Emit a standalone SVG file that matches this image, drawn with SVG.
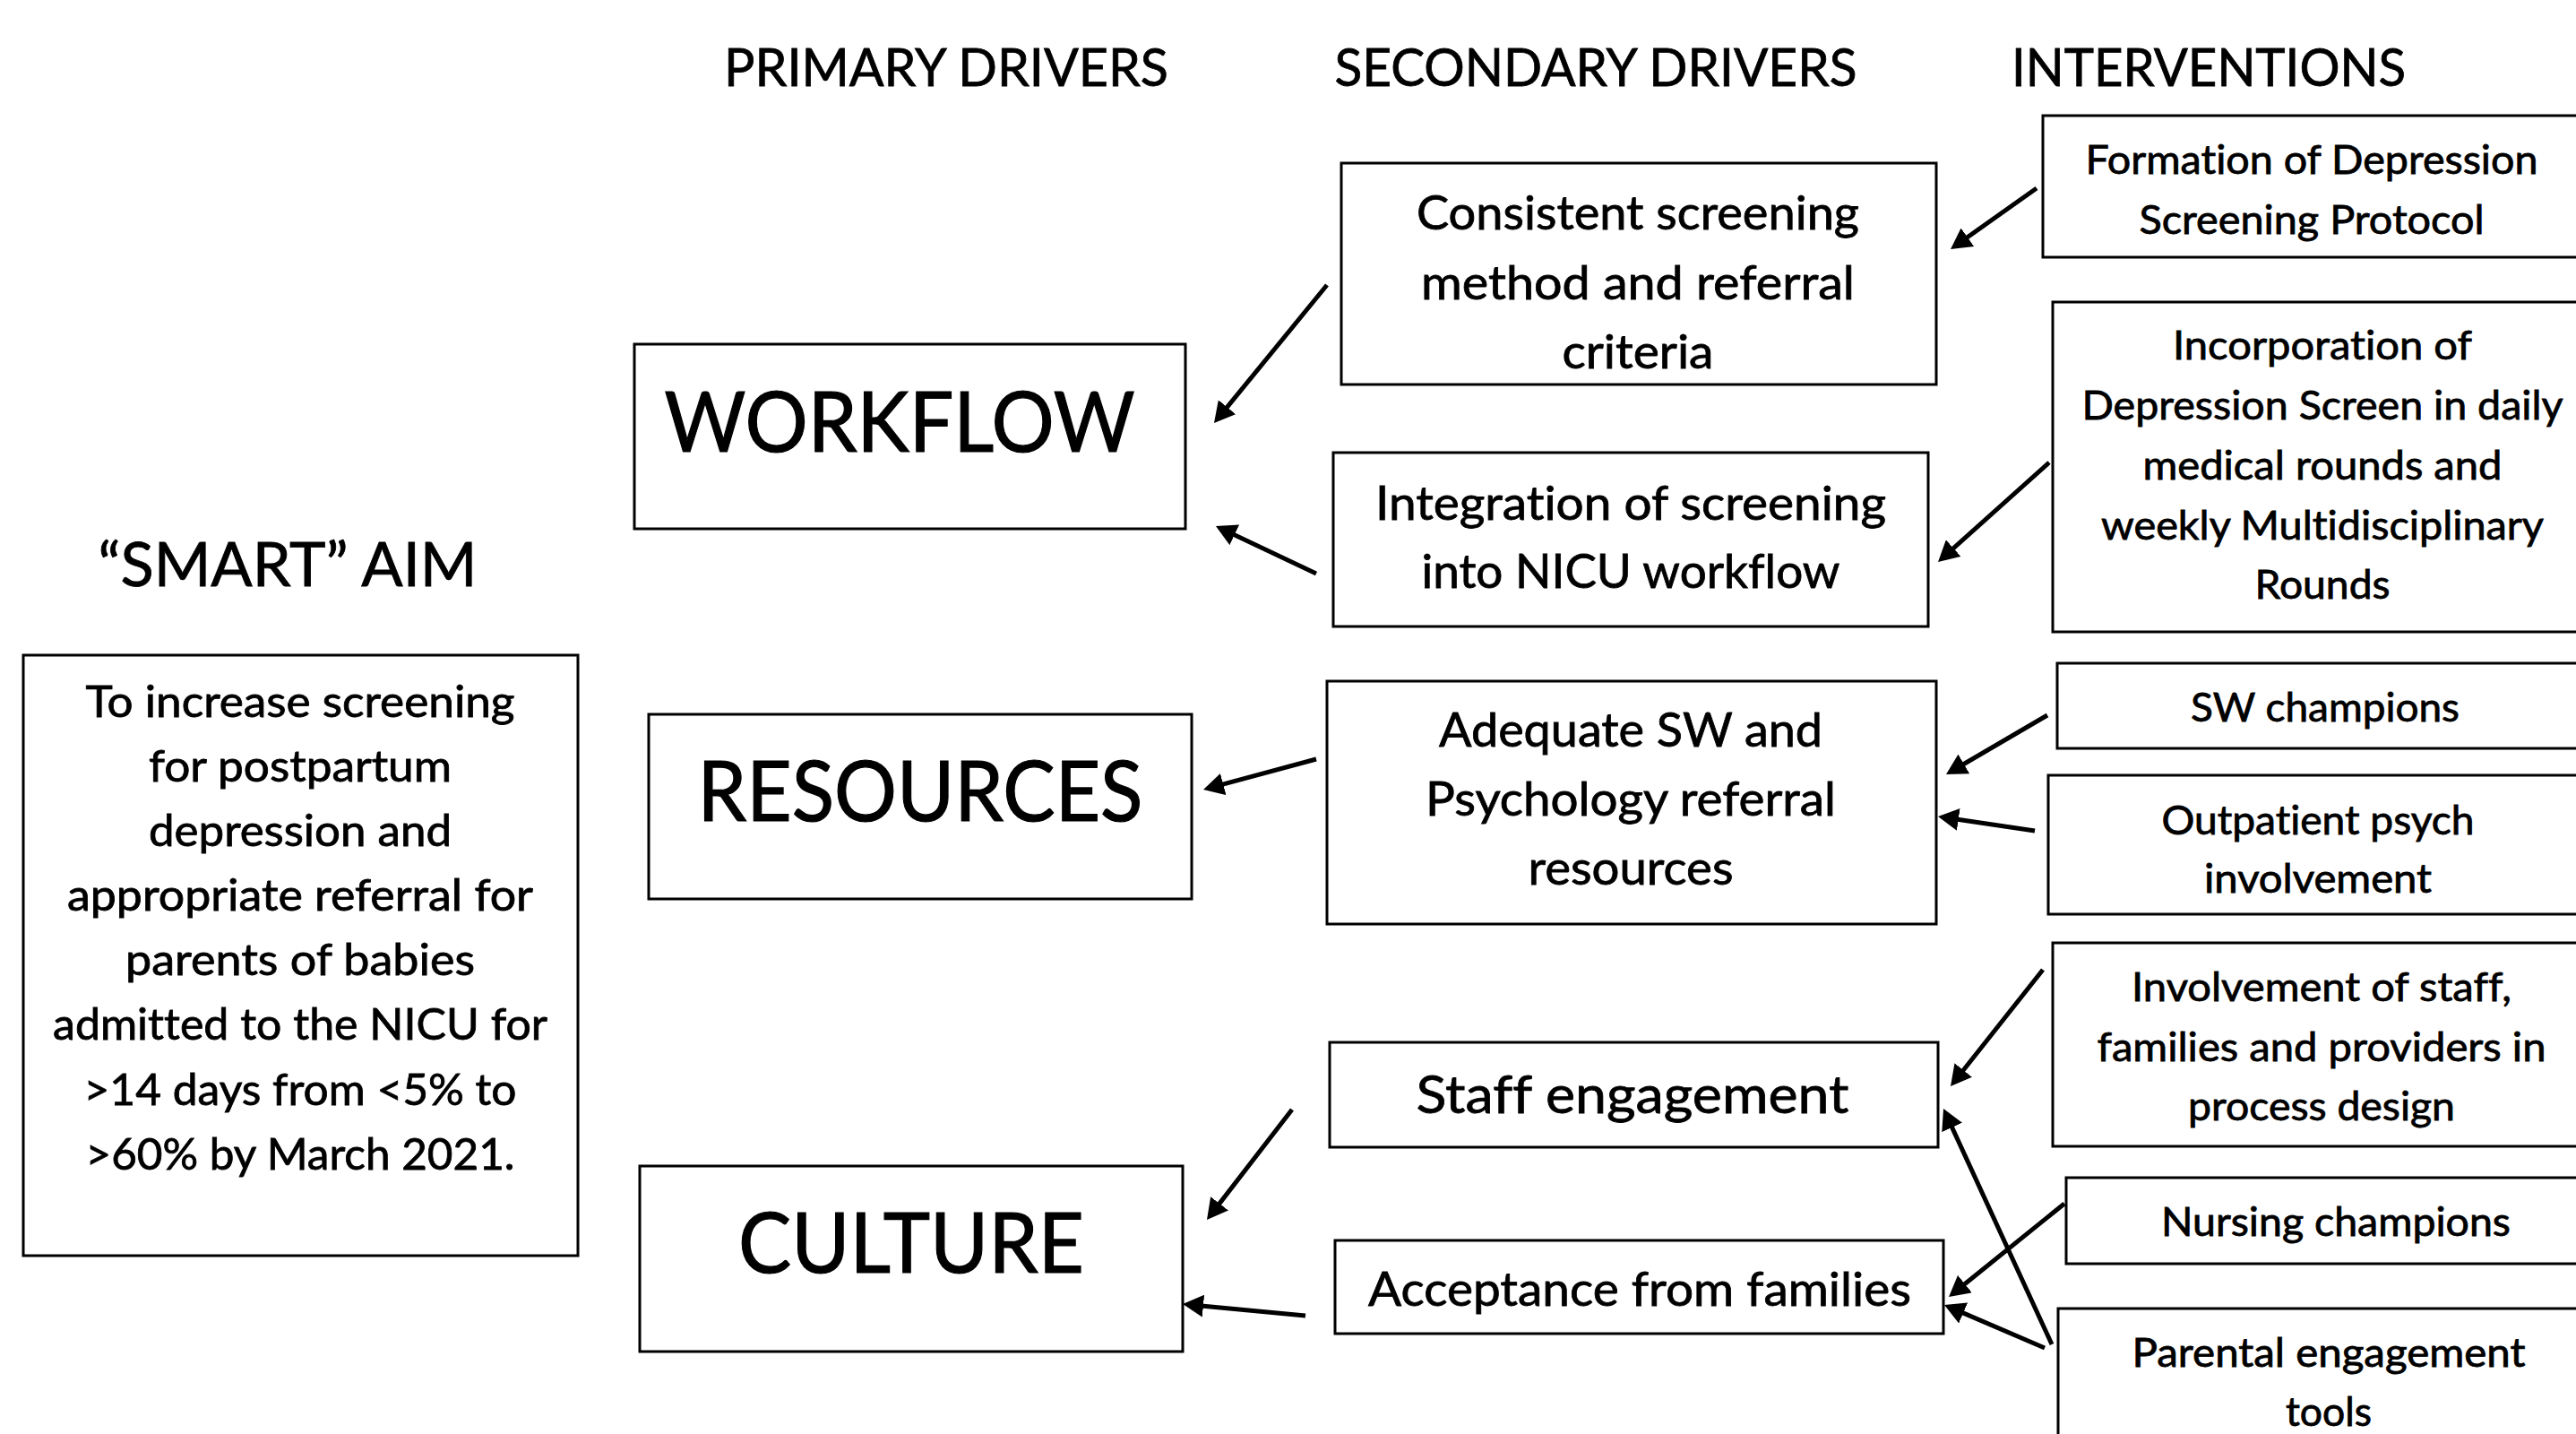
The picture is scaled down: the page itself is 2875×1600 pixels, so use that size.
<svg xmlns="http://www.w3.org/2000/svg" width="2875" height="1600" viewBox="0 0 2875 1600">
<defs>
<style>
.box{fill:#fff;stroke:#000;stroke-width:3}
text{font-family:Lato,"Open Sans","Liberation Sans",sans-serif;fill:#000;text-anchor:middle;font-variant-ligatures:none;stroke:#000;stroke-width:0.8;paint-order:stroke}
.title{font-size:59px}
.smart{font-size:67px}
.big{font-size:93px;stroke-width:1.2}
.aim{font-size:49px}
.sec{font-size:53px}
.staff{font-size:59px}
.int{font-size:45px}
.conn line{stroke:#000;stroke-width:5;fill:none;marker-end:url(#ah)}
</style>
<marker id="ah" markerUnits="userSpaceOnUse" viewBox="0 0 23 25" markerWidth="23" markerHeight="25" refX="13" refY="12.5" orient="auto">
<path d="M0,0 L23,12.5 L0,25 z" fill="#000"/>
</marker>
</defs>
<rect width="2875" height="1600" fill="#fff"/>

<g id="headers">
<text class="title" x="1056" y="96" textLength="496" lengthAdjust="spacingAndGlyphs">PRIMARY DRIVERS</text>
<text class="title" x="1781" y="96" textLength="583" lengthAdjust="spacingAndGlyphs">SECONDARY DRIVERS</text>
<text class="title" x="2465" y="96" textLength="440" lengthAdjust="spacingAndGlyphs">INTERVENTIONS</text>
<text class="smart" x="321" y="654" textLength="423" lengthAdjust="spacingAndGlyphs">“SMART” AIM</text>
</g>

<g id="aim">
<rect class="box" x="26" y="731" width="619" height="670"/>
<text class="aim" x="335" y="800" textLength="479" lengthAdjust="spacingAndGlyphs">To increase screening</text>
<text class="aim" x="335" y="872" textLength="338" lengthAdjust="spacingAndGlyphs">for postpartum</text>
<text class="aim" x="335" y="944" textLength="338" lengthAdjust="spacingAndGlyphs">depression and</text>
<text class="aim" x="335" y="1016" textLength="520" lengthAdjust="spacingAndGlyphs">appropriate referral for</text>
<text class="aim" x="335" y="1088" textLength="390" lengthAdjust="spacingAndGlyphs">parents of babies</text>
<text class="aim" x="335" y="1160" textLength="552" lengthAdjust="spacingAndGlyphs">admitted to the NICU for</text>
<text class="aim" x="335" y="1233" textLength="483" lengthAdjust="spacingAndGlyphs">&gt;14 days from &lt;5% to</text>
<text class="aim" x="335" y="1305" textLength="479" lengthAdjust="spacingAndGlyphs">&gt;60% by March 2021.</text>
</g>

<g id="workflow">
<rect class="box" x="708" y="384" width="615" height="206"/>
<text class="big" x="1004" y="504" textLength="525" lengthAdjust="spacingAndGlyphs">WORKFLOW</text>
</g>
<g id="resources">
<rect class="box" x="724" y="797" width="606" height="206"/>
<text class="big" x="1027" y="916" textLength="497" lengthAdjust="spacingAndGlyphs">RESOURCES</text>
</g>
<g id="culture">
<rect class="box" x="714" y="1301" width="606" height="207"/>
<text class="big" x="1017" y="1420" textLength="386" lengthAdjust="spacingAndGlyphs">CULTURE</text>
</g>

<g id="consistent">
<rect class="box" x="1497" y="182" width="664" height="247"/>
<text class="sec" x="1828" y="256" textLength="494" lengthAdjust="spacingAndGlyphs">Consistent screening</text>
<text class="sec" x="1828" y="334" textLength="484" lengthAdjust="spacingAndGlyphs">method and referral</text>
<text class="sec" x="1828" y="411" textLength="169" lengthAdjust="spacingAndGlyphs">criteria</text>
</g>
<g id="integration">
<rect class="box" x="1488" y="505" width="664" height="194"/>
<text class="sec" x="1820" y="580" textLength="570" lengthAdjust="spacingAndGlyphs">Integration of screening</text>
<text class="sec" x="1820" y="656" textLength="467" lengthAdjust="spacingAndGlyphs">into NICU workflow</text>
</g>
<g id="adequate">
<rect class="box" x="1481" y="760" width="680" height="271"/>
<text class="sec" x="1820" y="833" textLength="428" lengthAdjust="spacingAndGlyphs">Adequate SW and</text>
<text class="sec" x="1820" y="910" textLength="458" lengthAdjust="spacingAndGlyphs">Psychology referral</text>
<text class="sec" x="1820" y="987" textLength="229" lengthAdjust="spacingAndGlyphs">resources</text>
</g>
<g id="staff">
<rect class="box" x="1484" y="1163" width="679" height="117"/>
<text class="staff" x="1822" y="1242" textLength="483" lengthAdjust="spacingAndGlyphs">Staff engagement</text>
</g>
<g id="acceptance">
<rect class="box" x="1490" y="1384" width="679" height="104"/>
<text class="sec" x="1830" y="1457" textLength="606" lengthAdjust="spacingAndGlyphs">Acceptance from families</text>
</g>

<g id="formation">
<rect class="box" x="2280" y="129" width="620" height="158"/>
<text class="int" x="2580" y="194" textLength="505" lengthAdjust="spacingAndGlyphs">Formation of Depression</text>
<text class="int" x="2580" y="261" textLength="385" lengthAdjust="spacingAndGlyphs">Screening Protocol</text>
</g>
<g id="incorporation">
<rect class="box" x="2291" y="337" width="620" height="368"/>
<text class="int" x="2592" y="401" textLength="334" lengthAdjust="spacingAndGlyphs">Incorporation of</text>
<text class="int" x="2592" y="468" textLength="537" lengthAdjust="spacingAndGlyphs">Depression Screen in daily</text>
<text class="int" x="2592" y="535" textLength="401" lengthAdjust="spacingAndGlyphs">medical rounds and</text>
<text class="int" x="2592" y="602" textLength="494" lengthAdjust="spacingAndGlyphs">weekly Multidisciplinary</text>
<text class="int" x="2592" y="668" textLength="151" lengthAdjust="spacingAndGlyphs">Rounds</text>
</g>
<g id="sw">
<rect class="box" x="2296" y="740" width="620" height="95"/>
<text class="int" x="2595" y="805" textLength="300" lengthAdjust="spacingAndGlyphs">SW champions</text>
</g>
<g id="outpatient">
<rect class="box" x="2286" y="865" width="620" height="155"/>
<text class="int" x="2587" y="931" textLength="349" lengthAdjust="spacingAndGlyphs">Outpatient psych</text>
<text class="int" x="2587" y="996" textLength="254" lengthAdjust="spacingAndGlyphs">involvement</text>
</g>
<g id="involvement">
<rect class="box" x="2291" y="1052" width="620" height="227"/>
<text class="int" x="2591" y="1117" textLength="424" lengthAdjust="spacingAndGlyphs">Involvement of staff,</text>
<text class="int" x="2591" y="1184" textLength="501" lengthAdjust="spacingAndGlyphs">families and providers in</text>
<text class="int" x="2591" y="1250" textLength="298" lengthAdjust="spacingAndGlyphs">process design</text>
</g>
<g id="nursing">
<rect class="box" x="2306" y="1314" width="620" height="96"/>
<text class="int" x="2607" y="1379" textLength="390" lengthAdjust="spacingAndGlyphs">Nursing champions</text>
</g>
<g id="parental">
<rect class="box" x="2297" y="1460" width="620" height="200"/>
<text class="int" x="2599" y="1525" textLength="439" lengthAdjust="spacingAndGlyphs">Parental engagement</text>
<text class="int" x="2599" y="1591" textLength="96" lengthAdjust="spacingAndGlyphs">tools</text>
</g>

<g id="connectors" class="conn">
<line x1="1481" y1="318" x2="1361.3" y2="464.3"/>
<line x1="1469" y1="640" x2="1366" y2="591.3"/>
<line x1="1469" y1="847" x2="1352.7" y2="878.4"/>
<line x1="1442" y1="1238" x2="1353.1" y2="1353.1"/>
<line x1="1457" y1="1468" x2="1330" y2="1455.9"/>
<line x1="2273" y1="210" x2="2185.2" y2="272.2"/>
<line x1="2287" y1="516" x2="2170.5" y2="620.3"/>
<line x1="2285" y1="798" x2="2180.6" y2="859"/>
<line x1="2271" y1="927" x2="2172.9" y2="912.5"/>
<line x1="2280" y1="1082" x2="2183.2" y2="1204.2"/>
<line x1="2290" y1="1500" x2="2173.2" y2="1246.1"/>
<line x1="2304" y1="1343" x2="2182.8" y2="1440.7"/>
<line x1="2282" y1="1504" x2="2179.2" y2="1459.9"/>
</g>
</svg>
